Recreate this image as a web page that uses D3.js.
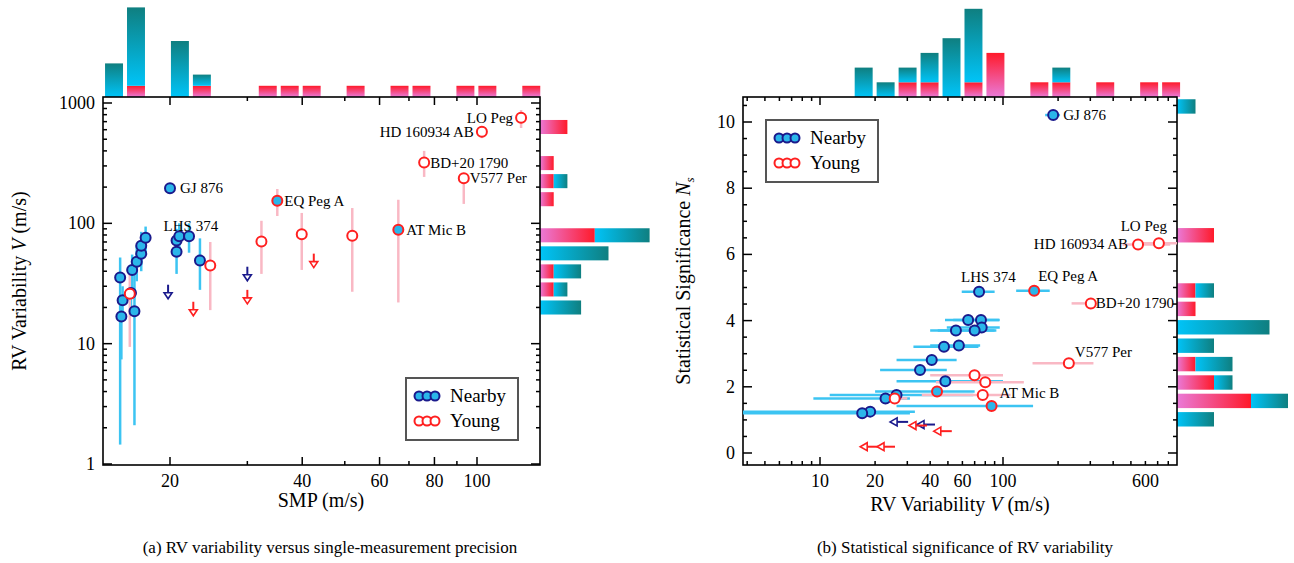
<!DOCTYPE html>
<html><head><meta charset="utf-8">
<script src="https://cdn.jsdelivr.net/npm/d3@7"></script>
<style>body{margin:0;background:#fff}text{font-family:"Liberation Serif","DejaVu Serif",serif}</style>
</head><body><svg id="c" width="1294" height="563"></svg>
<script>
// ---- panel (a) data: SMP vs V ----
var nearbySMP = [15.4,15.6,15.5,16.3,16.6,16.4,16.8,17.2,17.2,17.6,20.0,20.7,20.7,21.0,22.1,23.4];
var nearbyV   = [35.5,22.9,16.8,26.4,18.6,41,48,56,65,76,196,58,72,78,78,49];
var nearbyVlo = [1.45,17,7.4,20,2.1,29,33,40,45,55,182,38,55,60,57,28];
var nearbyVhi = [52,30,24,33,45,55,65,80,85,94,210,78,90,100,100,75];
var youngSMP  = [16.2,24.7,32.3,35.1,39.9,52.0,66.2,75.8,93.3,102.6,126];
var youngV    = [26,44.7,70.7,154,81,79,88.4,320,237,578,755];
var youngVlo  = [9.4,19,38,115,41,27,22,243,145,510,620];
var youngVhi  = [41,70,105,193,122,134,157,400,250,640,875];
var youngFill = [0,0,0,1,0,0,1,0,0,0,0];
var limSMP    = [19.8,30,22.6,30,42.5];
var limV      = [30.9,43.6,22.3,28,56];
var limNearby = [1,1,0,0,0];
var labelsA = [["GJ 876",20.0,196,10,5],["LHS 374",20.7,72,-13,-10],["EQ Peg A",35.1,154,7,5],["AT Mic B",66.2,88.4,8,5],
  ["BD+20 1790",75.8,320,6,5],["V577 Per",93.3,237,6,5],["HD 160934 AB",102.6,578,-8,5,"end"],["LO Peg",126,755,-8,5,"end"]];

// ---- panel (b) data: V vs Ns ----
var nbV   = [188,74,64.5,75.8,76.5,55.3,70,47.6,57.4,40.8,35.2,48.4,26.2,22.8,18.8,17.0];
var nbNs  = [10.21,4.87,4.02,4.02,3.79,3.70,3.70,3.21,3.25,2.81,2.51,2.17,1.75,1.65,1.25,1.20];
var nbVlo = [170,59.5,48.2,53.5,49.3,40,44,32.4,40,26.2,21.3,26.2,11.3,9.2,3.65,3.65];
var nbVhi = [205,90,95,96,96,90,92,73.4,75,55.8,49.3,100,68.8,31,33,31];
var ygV   = [711,547,148,302,229,69.9,80,43.6,77.5,25.6,86.6];
var ygNs  = [6.34,6.30,4.90,4.52,2.71,2.35,2.14,1.86,1.75,1.65,1.42];
var ygVlo = [540,450,118,237,145,40,43,20,36,24,26.2];
var ygVhi = [900,820,180,312,312,100,130,70,110,30,146];
var ygFill = [0,0,1,0,0,0,0,1,0,0,1];
var limBV  = [30.3,42.5,38.4,52.5,20.8,25.7];
var limBNs = [0.94,0.86,0.83,0.66,0.19,0.19];
var limBNearby = [1,1,0,0,0,0];
var labelsB = [["GJ 876",188,10.21,10,5],["LO Peg",711,6.34,8,-12,"end"],["HD 160934 AB",547,6.30,-10,5,"end"],
  ["LHS 374",74,4.87,-18,-10],["EQ Peg A",148,4.90,4,-10],["BD+20 1790",302,4.52,5,5],["V577 Per",229,2.71,6,-6],["AT Mic B",86.6,1.42,8,-8]];

// ---- histogram counts ----
var topA_young  = [0,1,0,0,1,0,0,1,1,1,0,1,0,1,1,0,1,1,0,1];
var topA_nearby = [3,7,0,5,1,0,0,0,0,0,0,0,0,0,0,0,0,0,0,0];
var sideA_young  = [2,0,1,1,1,0,4,0,1,1,0];   // from top, bins of 0.15 dex below 751 m/s
var sideA_nearby = [0,0,0,1,0,0,4,5,2,1,3];
var topB_young  = [0,0,0,0,0,0,0,1,1,0,1,3,0,1,1,0,1,0,1,1];
var topB_nearby = [0,0,0,0,0,2,1,1,2,4,5,0,0,0,1,0,0,0,0,0];
var sideB_young  = [0,4,2,1,0,0,1,1,0,0,2,0,0,0,0,0,0,0];  // from bottom, Ns bins of 0.556 from 0.74
var sideB_nearby = [2,2,1,2,2,5,0,1,0,0,0,0,0,0,0,0,0,1];

var svg = d3.select("#c");
var defs = svg.append("defs");
function grad(id, x2, y2, c1, c2) {
  var g = defs.append("linearGradient").attr("id", id).attr("x1",0).attr("y1",0).attr("x2",x2).attr("y2",y2);
  g.append("stop").attr("offset","0%").attr("stop-color",c1);
  g.append("stop").attr("offset","100%").attr("stop-color",c2);
}
grad("tv",0,1,"#0f7f80","#00c4f8");
grad("pv",0,1,"#ff1a2a","#ea7ad8");
grad("th",1,0,"#00c4f8","#0f7f80");
grad("ph",1,0,"#ea7ad8","#ff1a2a");

var BLUE = "#1a1a8c", CYAN = "#2bb6ea", RED = "#ff2020", EB = "#3cc4f2", EP = "#f9b8c4";

// scales
var xA = d3.scaleLog().domain([20,100]).range([170,477]);
var yA = d3.scaleLog().domain([1,1000]).range([464,103]);
var xB = d3.scaleLog().domain([10,100]).range([820,1003]);
var yB = d3.scaleLinear().domain([0,10]).range([453,122]);
var boxA = {x0:103,x1:540,y0:97,y1:465}, boxB = {x0:743,x1:1177,y0:97,y1:465};

function frame(b) {
  svg.append("rect").attr("x",b.x0).attr("y",b.y0).attr("width",b.x1-b.x0).attr("height",b.y1-b.y0)
    .attr("fill","none").attr("stroke","#000").attr("stroke-width",1.6);
}
function xticks(b, sc, vals, major, labels) {
  vals.forEach(function(v){
    var x = sc(v), L = major.indexOf(v) >= 0 ? 8 : 4;
    svg.append("line").attr("x1",x).attr("x2",x).attr("y1",b.y1).attr("y2",b.y1-L).attr("stroke","#000").attr("stroke-width",1.5);
    svg.append("line").attr("x1",x).attr("x2",x).attr("y1",b.y0).attr("y2",b.y0+L).attr("stroke","#000").attr("stroke-width",1.5);
  });
  labels.forEach(function(v){
    svg.append("text").attr("x",sc(v)).attr("y",b.y1+22).attr("text-anchor","middle").attr("font-size",18).text(v);
  });
}
function yticks(b, sc, vals, major, labels) {
  vals.forEach(function(v){
    var y = sc(v), L = major.indexOf(v) >= 0 ? 9 : 4;
    svg.append("line").attr("y1",y).attr("y2",y).attr("x1",b.x0).attr("x2",b.x0+L).attr("stroke","#000").attr("stroke-width",1.5);
    svg.append("line").attr("y1",y).attr("y2",y).attr("x1",b.x1).attr("x2",b.x1-L).attr("stroke","#000").attr("stroke-width",1.5);
  });
  labels.forEach(function(v){
    svg.append("text").attr("x",b.x0-8).attr("y",sc(v)+6).attr("text-anchor","end").attr("font-size",18).text(v);
  });
}

// ---------- histograms ----------
function topHist(b, sc, lo, dex, young, nearby, unit) {
  young.forEach(function(c, i){
    var a = sc(lo*Math.pow(10,dex*i)) + 2, w = sc(lo*Math.pow(10,dex*(i+1))) - 2 - a;
    if (c) svg.append("rect").attr("x",a).attr("y",b.y0-c*unit).attr("width",w).attr("height",c*unit).attr("fill","url(#pv)");
    var n = nearby[i];
    if (n) svg.append("rect").attr("x",a).attr("y",b.y0-(c+n)*unit).attr("width",w).attr("height",n*unit).attr("fill","url(#tv)");
  });
}
function sideHist(b, edges, young, nearby, unit) {
  young.forEach(function(c, i){
    var e1 = edges[i], e2 = edges[i+1];
    var top = Math.min(e1,e2) + 2, h = Math.abs(e2-e1) - 4;
    if (c) svg.append("rect").attr("x",b.x1).attr("y",top).attr("width",c*unit).attr("height",h).attr("fill","url(#ph)");
    var n = nearby[i];
    if (n) svg.append("rect").attr("x",b.x1+c*unit).attr("y",top).attr("width",n*unit).attr("height",h).attr("fill","url(#th)");
  });
}
topHist(boxA, xA, 14.08, 0.05, topA_young, topA_nearby, 11.2);
topHist(boxB, xB, 3.79, 0.12, topB_young, topB_nearby, 14.7);
var edgesA = d3.range(sideA_young.length+1).map(function(k){ return yA(751*Math.pow(10,-0.15*k)); });
sideHist(boxA, edgesA, sideA_young, sideA_nearby, 13.7);
var edgesB = d3.range(sideB_young.length+1).map(function(k){ return yB(0.74+0.556*k); });
sideHist(boxB, edgesB, sideB_young, sideB_nearby, 18.5);

frame(boxA); frame(boxB);

// ---------- ticks ----------
var minA = [];
[1,10,100].forEach(function(d){ for (var k=1;k<10;k++) minA.push(d*k); }); minA.push(1000);
yticks(boxA, yA, minA, [1,10,100,1000], [1,10,100,1000]);
xticks(boxA, xA, [20,30,40,50,60,70,80,90,100], [20,40,60,80,100], [20,40,60,80,100]);
var minB = [];
[1,10,100].forEach(function(d){ for (var k=1;k<10;k++) { var v=d*k; if (v>=4 && v<=800) minB.push(v); } });
xticks(boxB, xB, minB, [10,100], [10,20,40,60,100,600]);
yticks(boxB, yB, d3.range(0,10.51,0.5), [0,2,4,6,8,10], [0,2,4,6,8,10]);

// ---------- panel (a) marks ----------
var gA = svg.append("g");
gA.selectAll(".ebn").data(nearbySMP).enter().append("line")
  .attr("x1",function(d){return xA(d);}).attr("x2",function(d){return xA(d);})
  .attr("y1",function(d,i){return yA(nearbyVlo[i]);}).attr("y2",function(d,i){return yA(nearbyVhi[i]);})
  .attr("stroke",EB).attr("stroke-width",2.5);
gA.selectAll(".eby").data(youngSMP).enter().append("line")
  .attr("x1",function(d){return xA(d);}).attr("x2",function(d){return xA(d);})
  .attr("y1",function(d,i){return yA(youngVlo[i]);}).attr("y2",function(d,i){return yA(youngVhi[i]);})
  .attr("stroke",EP).attr("stroke-width",2.5);
function downArrow(g, x, y, nearby) {
  var c = nearby ? BLUE : RED;
  g.append("line").attr("x1",x).attr("x2",x).attr("y1",y).attr("y2",y+12).attr("stroke",c).attr("stroke-width",2);
  g.append("path").attr("d","M"+(x-4)+","+(y+8)+"L"+(x+4)+","+(y+8)+"L"+x+","+(y+14)+"Z")
    .attr("fill","#fff").attr("stroke",c).attr("stroke-width",1.6);
}
limSMP.forEach(function(d,i){ downArrow(gA, xA(d), yA(limV[i]), limNearby[i]); });
gA.selectAll(".pn").data(nearbySMP).enter().append("circle")
  .attr("cx",function(d){return xA(d);}).attr("cy",function(d,i){return yA(nearbyV[i]);}).attr("r",5)
  .attr("fill",CYAN).attr("stroke",BLUE).attr("stroke-width",2);
gA.selectAll(".py").data(youngSMP).enter().append("circle")
  .attr("cx",function(d){return xA(d);}).attr("cy",function(d,i){return yA(youngV[i]);}).attr("r",5)
  .attr("fill",function(d,i){return youngFill[i]?CYAN:"#fff";}).attr("stroke",RED).attr("stroke-width",2);
labelsA.forEach(function(l){
  svg.append("text").attr("x",xA(l[1])+l[3]).attr("y",yA(l[2])+l[4]).attr("font-size",15)
    .attr("text-anchor",l[5]||"start").text(l[0]);
});

// ---------- panel (b) marks ----------
var gB = svg.append("g");
gB.selectAll(".ebn").data(nbV).enter().append("line")
  .attr("y1",function(d,i){return yB(nbNs[i]);}).attr("y2",function(d,i){return yB(nbNs[i]);})
  .attr("x1",function(d,i){return Math.max(boxB.x0,xB(nbVlo[i]));}).attr("x2",function(d,i){return xB(nbVhi[i]);})
  .attr("stroke",EB).attr("stroke-width",2.5);
gB.selectAll(".eby").data(ygV).enter().append("line")
  .attr("y1",function(d,i){return yB(ygNs[i]);}).attr("y2",function(d,i){return yB(ygNs[i]);})
  .attr("x1",function(d,i){return xB(ygVlo[i]);}).attr("x2",function(d,i){return Math.min(boxB.x1,xB(ygVhi[i]));})
  .attr("stroke",function(d,i){return ygFill[i]?EB:EP;}).attr("stroke-width",2.5);
function leftArrow(g, x, y, nearby) {
  var c = nearby ? BLUE : RED;
  g.append("line").attr("x1",x).attr("x2",x-16).attr("y1",y).attr("y2",y).attr("stroke",c).attr("stroke-width",2);
  g.append("path").attr("d","M"+(x-11)+","+(y-4)+"L"+(x-11)+","+(y+4)+"L"+(x-18)+","+y+"Z")
    .attr("fill","#fff").attr("stroke",c).attr("stroke-width",1.6);
}
limBV.forEach(function(d,i){ leftArrow(gB, xB(d), yB(limBNs[i]), limBNearby[i]); });
gB.selectAll(".pn").data(nbV).enter().append("circle")
  .attr("cx",function(d){return xB(d);}).attr("cy",function(d,i){return yB(nbNs[i]);}).attr("r",5)
  .attr("fill",CYAN).attr("stroke",BLUE).attr("stroke-width",2);
gB.selectAll(".py").data(ygV).enter().append("circle")
  .attr("cx",function(d){return xB(d);}).attr("cy",function(d,i){return yB(ygNs[i]);}).attr("r",5)
  .attr("fill",function(d,i){return ygFill[i]?CYAN:"#fff";}).attr("stroke",RED).attr("stroke-width",2);
labelsB.forEach(function(l){
  svg.append("text").attr("x",xB(l[1])+l[3]).attr("y",yB(l[2])+l[4]).attr("font-size",15)
    .attr("text-anchor",l[5]||"start").text(l[0]);
});

// ---------- legends ----------
function legend(x, y) {
  svg.append("rect").attr("x",x).attr("y",y).attr("width",112).attr("height",62)
    .attr("fill","#fff").attr("stroke","#555").attr("stroke-width",2);
  [[CYAN,BLUE,"Nearby"],["#fff",RED,"Young"]].forEach(function(r, j){
    var cy = y + 18 + j*25;
    [0,1,2].forEach(function(k){
      svg.append("circle").attr("cx",x+13+k*8).attr("cy",cy).attr("r",4.5)
        .attr("fill",r[0]).attr("stroke",r[1]).attr("stroke-width",2);
    });
    svg.append("text").attr("x",x+44).attr("y",cy+6).attr("font-size",19).text(r[2]);
  });
}
legend(406, 378);
legend(766, 120);

// ---------- axis titles & captions ----------
var t1 = svg.append("text").attr("transform","translate(26,281) rotate(-90)").attr("text-anchor","middle").attr("font-size",20);
t1.append("tspan").text("RV Variability ");
t1.append("tspan").attr("font-style","italic").text("V");
t1.append("tspan").text(" (m/s)");
svg.append("text").attr("x",321).attr("y",507).attr("text-anchor","middle").attr("font-size",20).text("SMP (m/s)");
var t2 = svg.append("text").attr("transform","translate(690,281) rotate(-90)").attr("text-anchor","middle").attr("font-size",20);
t2.append("tspan").text("Statistical Significance ");
t2.append("tspan").attr("font-style","italic").text("N");
t2.append("tspan").attr("font-style","italic").attr("font-size",13).attr("dy",4).text("s");
var t3 = svg.append("text").attr("x",960).attr("y",511).attr("text-anchor","middle").attr("font-size",20);
t3.append("tspan").text("RV Variability ");
t3.append("tspan").attr("font-style","italic").text("V");
t3.append("tspan").text("  (m/s)");
svg.append("text").attr("x",330).attr("y",553).attr("text-anchor","middle").attr("font-size",17)
  .text("(a)  RV variability versus single-measurement precision");
svg.append("text").attr("x",965).attr("y",553).attr("text-anchor","middle").attr("font-size",17)
  .text("(b)  Statistical significance of RV variability");
</script></body></html>
